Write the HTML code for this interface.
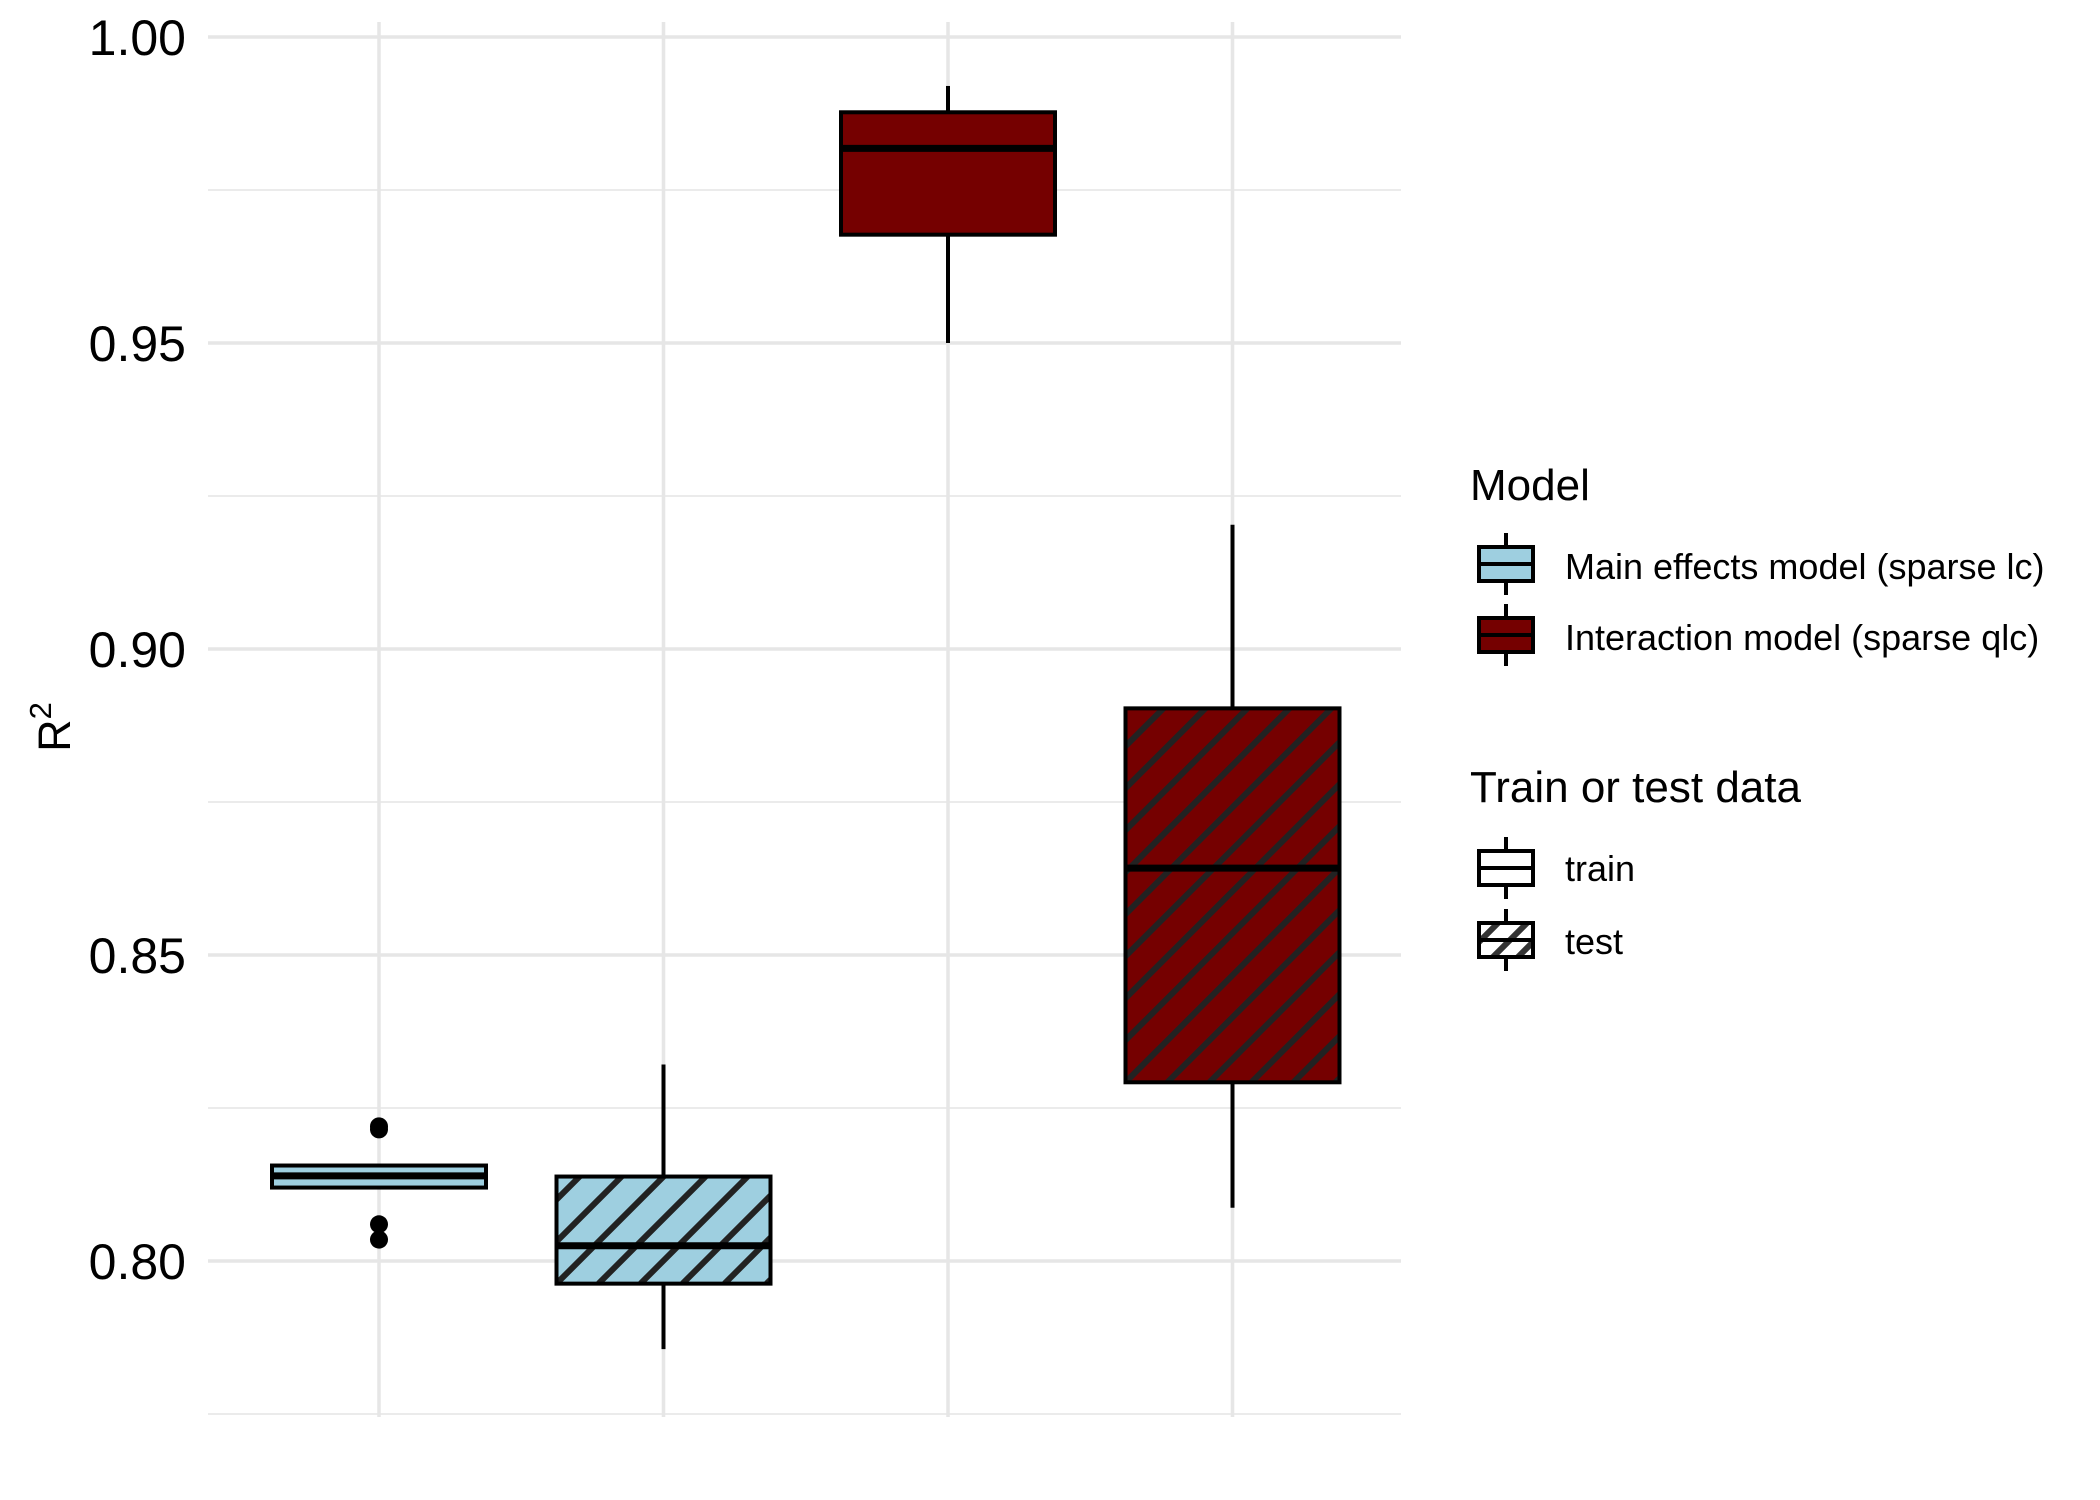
<!DOCTYPE html>
<html><head><meta charset="utf-8"><style>
html,body{margin:0;padding:0;background:#fff;}
svg{display:block;font-family:"Liberation Sans",Arial,sans-serif;}
</style></head><body>
<svg id="chart" width="2100" height="1500" viewBox="0 0 2100 1500">
<defs>
<clipPath id="lgclip"><rect x="1487" y="924" width="54" height="34"/></clipPath>
</defs>
<g id="grid"></g>
<g id="axis"></g>
<g id="marks"></g>
<text x="0" y="0" transform="translate(70,727) rotate(-90)" font-size="45" text-anchor="middle" fill="#000">R<tspan dy="-19" font-size="31">2</tspan></text>
<g id="legend" transform="translate(-8,-1)">
  <text x="1478" y="501" font-size="44" fill="#000">Model</text>
  <g>
    <line x1="1514" y1="534" x2="1514" y2="596" stroke="#000" stroke-width="4"/>
    <rect x="1487" y="548" width="54" height="34" fill="#9ECFE0" stroke="#000" stroke-width="4"/>
    <line x1="1487" y1="565" x2="1541" y2="565" stroke="#000" stroke-width="4"/>
    <text x="1573" y="580" font-size="36" fill="#000">Main effects model (sparse lc)</text>
  </g>
  <g>
    <line x1="1514" y1="605" x2="1514" y2="667" stroke="#000" stroke-width="4"/>
    <rect x="1487" y="619" width="54" height="34" fill="#750000" stroke="#000" stroke-width="4"/>
    <line x1="1487" y1="636" x2="1541" y2="636" stroke="#000" stroke-width="4"/>
    <text x="1573" y="651" font-size="36" fill="#000">Interaction model (sparse qlc)</text>
  </g>
  <text x="1478" y="803" font-size="44" fill="#000">Train or test data</text>
  <g>
    <line x1="1514" y1="838" x2="1514" y2="900" stroke="#000" stroke-width="4"/>
    <rect x="1487" y="852" width="54" height="34" fill="#fff" stroke="#000" stroke-width="4"/>
    <line x1="1487" y1="869" x2="1541" y2="869" stroke="#000" stroke-width="4"/>
    <text x="1573" y="882" font-size="36" fill="#000">train</text>
  </g>
  <g>
    <line x1="1514" y1="910" x2="1514" y2="972" stroke="#000" stroke-width="4"/>
    <rect x="1487" y="924" width="54" height="34" fill="#fff" stroke="#000" stroke-width="4"/>
    <g clip-path="url(#lgclip)">
      <line x1="1480" y1="950" x2="1512" y2="918" stroke="#333" stroke-width="6"/>
      <line x1="1495" y1="964" x2="1537" y2="922" stroke="#333" stroke-width="6"/>
      <line x1="1520" y1="964" x2="1550" y2="934" stroke="#333" stroke-width="6"/>
    </g>
    <rect x="1487" y="924" width="54" height="34" fill="none" stroke="#000" stroke-width="4"/>
    <line x1="1487" y1="941" x2="1541" y2="941" stroke="#000" stroke-width="4"/>
    <text x="1573" y="955" font-size="36" fill="#000">test</text>
  </g>
</g>
</svg>
<script>
const categories = ["main-train", "main-test", "interaction-train", "interaction-test"];
const models = ["main", "main", "interaction", "interaction"];
const splits = ["train", "test", "train", "test"];
const whiskerLow = [0.8120, 0.7856, 0.9500, 0.8087];
const q1Values = [0.8120, 0.7963, 0.9677, 0.8292];
const medianValues = [0.8139, 0.8025, 0.9818, 0.8642];
const q3Values = [0.8156, 0.8138, 0.9877, 0.8903];
const whiskerHigh = [0.8156, 0.8321, 0.9920, 0.9203];
const outlierCats = [0, 0, 0, 0];
const outlierValues = [0.8220, 0.8215, 0.8060, 0.8035];
const majorTicks = [0.80, 0.85, 0.90, 0.95, 1.00];
const tickLabels = ["0.80", "0.85", "0.90", "0.95", "1.00"];
const minorTicks = [0.775, 0.825, 0.875, 0.925, 0.975];

const NS = "http://www.w3.org/2000/svg";
const Y0 = 37, STEP = 306;
function yScale(v){ return Y0 + (1 - v) / 0.05 * STEP; }
function xScale(i){ return 379 + i * 284.5; }
const BW = 214;
const fills = {main:"#9ECFE0", interaction:"#750000"};
function mk(tag, attrs, parent){
  const e = document.createElementNS(NS, tag);
  for (const k in attrs) e.setAttribute(k, attrs[k]);
  parent.appendChild(e); return e;
}
const grid = document.getElementById("grid");
const axis = document.getElementById("axis");
const marks = document.getElementById("marks");
const defs = document.querySelector("defs");
const XL = 208, XR = 1401, YT = 22, YB = 1417;
minorTicks.forEach(v => {
  const l = mk("line", {x1:XL, x2:XR, y1:yScale(v), y2:yScale(v), stroke:"#ebebeb", "stroke-width":2}, grid);
  
  
});
majorTicks.forEach((v, i) => {
  const l = mk("line", {x1:XL, x2:XR, y1:yScale(v), y2:yScale(v), stroke:"#e6e6e6", "stroke-width":3.5}, grid);
  
  
  const t = mk("text", {x:186, y:yScale(v) + 18, "font-size":50, "text-anchor":"end", fill:"#000"}, axis);
  t.textContent = tickLabels[i];
  
  
});
categories.forEach((c, i) => {
  const l = mk("line", {x1:xScale(i), x2:xScale(i), y1:YT, y2:YB, stroke:"#e6e6e6", "stroke-width":3.5}, grid);
  
  
});
categories.forEach((c, i) => {
  const cx = xScale(i), x0 = cx - BW/2;
  const g = mk("g", {}, marks);
  
  
  const w1 = mk("line", {x1:cx, x2:cx, y1:yScale(whiskerHigh[i]), y2:yScale(q3Values[i]), stroke:"#000", "stroke-width":4}, g);
  
  
  const w2 = mk("line", {x1:cx, x2:cx, y1:yScale(q1Values[i]), y2:yScale(whiskerLow[i]), stroke:"#000", "stroke-width":4}, g);
  
  
  const yt = yScale(q3Values[i]), yb = yScale(q1Values[i]);
  const r = mk("rect", {x:x0, y:yt, width:BW, height:yb-yt, fill:fills[models[i]]}, g);
  
  
  if (splits[i] === "test") {
    const cp = mk("clipPath", {id:"clip"+i}, defs);
    mk("rect", {x:x0, y:yt, width:BW, height:yb-yt}, cp);
    const hg = mk("g", {"clip-path":"url(#clip"+i+")"}, g);
    
    
    const sp = 42;
    for (let k = -40; k < 60; k++) {
      const bx = x0 + k * sp;
      mk("line", {x1:bx, y1:yb, x2:bx + (yb-yt) + 20, y2:yt - 20, stroke:"#222", "stroke-width":6}, hg);
    }
  }
  const ob = mk("rect", {x:x0, y:yt, width:BW, height:yb-yt, fill:"none", stroke:"#000", "stroke-width":4}, g);
  
  
  const m = mk("line", {x1:x0, x2:x0+BW, y1:yScale(medianValues[i]), y2:yScale(medianValues[i]), stroke:"#000", "stroke-width":7}, g);
  
  
});
outlierValues.forEach((v, j) => {
  const p = mk("circle", {cx:xScale(outlierCats[j]), cy:yScale(v), r:9, fill:"#000"}, marks);
  
  
});
</script>
</body></html>
